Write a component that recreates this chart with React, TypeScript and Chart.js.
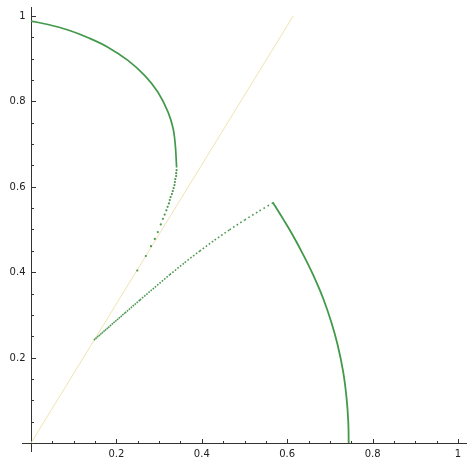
import React, { useEffect, useRef } from "react";
import { Chart, registerables } from "chart.js";

Chart.register(...registerables);

// Upper arc (dense part)
const upperArcX = [0.0, 0.040, 0.087, 0.134, 0.180, 0.227, 0.266, 0.297, 0.321, 0.333, 0.338, 0.340, 0.341];
const upperArcY = [0.988, 0.980, 0.967, 0.949, 0.927, 0.896, 0.861, 0.822, 0.775, 0.736, 0.697, 0.665, 0.645];

// Upper arc tail (sparse dots)
const upperTailX = [0.341, 0.340, 0.340, 0.338, 0.337, 0.336, 0.334, 0.332, 0.330, 0.327, 0.325, 0.323, 0.320, 0.317, 0.313, 0.309, 0.304, 0.297, 0.290, 0.281, 0.269, 0.249];
const upperTailY = [0.639, 0.632, 0.625, 0.618, 0.611, 0.604, 0.597, 0.590, 0.583, 0.576, 0.569, 0.561, 0.553, 0.545, 0.535, 0.525, 0.512, 0.494, 0.478, 0.461, 0.438, 0.404];

// Lower dotted branch
const lowerBranchX = [0.1475, 0.185, 0.220, 0.255, 0.290, 0.325, 0.360, 0.395, 0.430, 0.465, 0.500, 0.535, 0.566];
const lowerBranchY = [0.2412, 0.2740, 0.3045, 0.3348, 0.3647, 0.3941, 0.4225, 0.4495, 0.4751, 0.4993, 0.5221, 0.5436, 0.5619];

// Right arc (dense)
const rightArcX = [0.566, 0.592, 0.615, 0.638, 0.661, 0.684, 0.703, 0.718, 0.731, 0.739, 0.743, 0.744];
const rightArcY = [0.564, 0.522, 0.483, 0.440, 0.393, 0.339, 0.284, 0.230, 0.167, 0.105, 0.050, 0.0];

// Straight reference line
const refLineX = [0, 0.614];
const refLineY = [0, 1.0];

// Axis ticks
const majorTicks = [0.2, 0.4, 0.6, 0.8, 1.0];
const tickLabels = ["0.2", "0.4", "0.6", "0.8", "1"];
const minorTicks = [0.05, 0.1, 0.15, 0.25, 0.3, 0.35, 0.45, 0.5, 0.55, 0.65, 0.7, 0.75, 0.85, 0.9, 0.95];

const toPts = (xs: number[], ys: number[]) => xs.map((x, i) => ({ x, y: ys[i] }));

export default function App() {
  const ref = useRef<HTMLCanvasElement>(null);

  useEffect(() => {
    if (!ref.current) return;
    const axesPlugin = {
      id: "sageAxes",
      beforeDatasetsDraw(chart: any) {
        const { ctx, chartArea, scales } = chart;
        const xs = scales.x;
        const ys = scales.y;
        const x0 = Math.round(xs.getPixelForValue(0)) + 0.5;
        const y0 = Math.round(ys.getPixelForValue(0)) + 0.5;
        ctx.save();
        ctx.strokeStyle = "#333";
        ctx.lineWidth = 1;
        ctx.beginPath();
        ctx.moveTo(chartArea.left, y0);
        ctx.lineTo(chartArea.right, y0);
        ctx.moveTo(x0, chartArea.top);
        ctx.lineTo(x0, chartArea.bottom);
        majorTicks.forEach((v) => {
          const px = Math.round(xs.getPixelForValue(v)) + 0.5;
          ctx.moveTo(px, y0);
          ctx.lineTo(px, y0 - 4.5);
          const py = Math.round(ys.getPixelForValue(v)) + 0.5;
          ctx.moveTo(x0, py);
          ctx.lineTo(x0 + 4.5, py);
        });
        minorTicks.forEach((v) => {
          const px = Math.round(xs.getPixelForValue(v)) + 0.5;
          ctx.moveTo(px, y0);
          ctx.lineTo(px, y0 - 2.5);
          const py = Math.round(ys.getPixelForValue(v)) + 0.5;
          ctx.moveTo(x0, py);
          ctx.lineTo(x0 + 2.5, py);
        });
        ctx.stroke();
        ctx.fillStyle = "#222";
        ctx.font = '10px "DejaVu Sans"';
        ctx.textAlign = "center";
        ctx.textBaseline = "top";
        majorTicks.forEach((v, i) => {
          ctx.fillText(tickLabels[i], xs.getPixelForValue(v), y0 + 5.5);
        });
        ctx.textAlign = "right";
        ctx.textBaseline = "middle";
        majorTicks.forEach((v, i) => {
          ctx.fillText(tickLabels[i], x0 - 6, ys.getPixelForValue(v) + 0.5);
        });
        ctx.restore();
      },
    };

    const green = "#42994a";
    const dotGreen = "rgba(55,140,60,0.9)";
    const chart = new Chart(ref.current, {
      type: "scatter",
      data: {
        datasets: [
          {
            data: toPts(upperArcX, upperArcY),
            showLine: true,
            pointRadius: 0,
            borderColor: green,
            borderWidth: 1.7,
            tension: 0.4,
          },
          {
            data: toPts(upperTailX, upperTailY),
            showLine: false,
            pointRadius: 1.1,
            pointBorderWidth: 0,
            pointBackgroundColor: dotGreen,
          },
          {
            data: toPts(lowerBranchX, lowerBranchY),
            showLine: true,
            pointRadius: 0,
            borderColor: dotGreen,
            borderWidth: 1.6,
            cubicInterpolationMode: "monotone",
            segment: {
              borderDash: (c: any) => [1.6, 0.5 + c.p0DataIndex * 0.24],
            },
          },
          {
            data: toPts(rightArcX, rightArcY),
            showLine: true,
            pointRadius: 0,
            borderColor: green,
            borderWidth: 1.8,
            tension: 0.4,
          },
          {
            data: toPts(refLineX, refLineY),
            showLine: true,
            pointRadius: 0,
            borderColor: "#f0e3b2",
            borderWidth: 1,
          },
        ],
      },
      options: {
        responsive: false,
        animation: false,
        events: [],
        layout: { padding: { left: 22, right: 7, top: 7, bottom: 15 } },
        plugins: { legend: { display: false }, tooltip: { enabled: false } },
        scales: {
          x: { type: "linear", min: -0.021, max: 1.021, display: false },
          y: { type: "linear", min: -0.021, max: 1.021, display: false },
        },
      },
      plugins: [axesPlugin],
    });
    return () => chart.destroy();
  }, []);

  return (
    <div style={{ position: "fixed", left: 0, top: 0, width: 474, height: 467, background: "#fff" }}>
      <canvas ref={ref} width={474} height={467} style={{ display: "block" }} />
    </div>
  );
}
